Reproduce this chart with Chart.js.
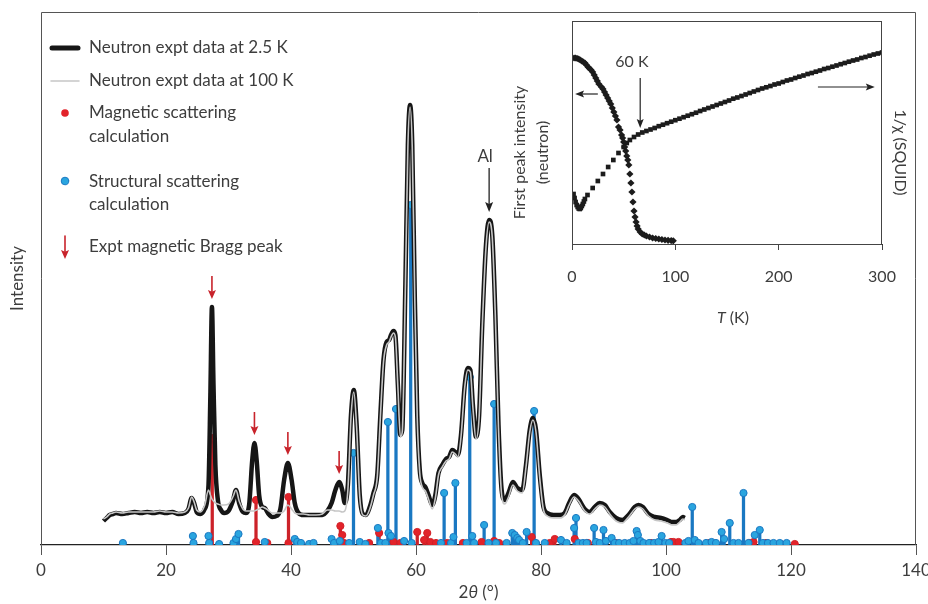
<!DOCTYPE html>
<html>
<head>
<meta charset="utf-8">
<script src="https://cdn.jsdelivr.net/npm/chart.js@4.4.1/dist/chart.umd.min.js"></script>
<style>
html, body { margin: 0; padding: 0; background: #fff; }
#wrap { position: relative; width: 928px; height: 604px; }
#main { position: absolute; left: 0; top: 0; }
#inset { position: absolute; left: 500px; top: 0; }
</style>
</head>
<body>
<div id="wrap">
  <canvas id="main" width="928" height="604"></canvas>
  <canvas id="inset" width="425" height="340"></canvas>
</div>
<script>
// main pattern: 2theta grid, 2.5 K and 100 K intensities (arb. units)
const twoTheta = [10,10.5,11,11.5,12,13,14,15,16,17,18,19,20,21,22,23,23.6,24.1,24.5,24.9,25.5,26.2,26.8,27.1,27.35,27.6,27.9,28.3,28.8,29.3,30,30.7,31.2,31.7,32.3,32.8,33.3,33.8,34.15,34.5,34.9,35.4,35.8,36.3,37,37.7,38.3,38.9,39.5,40.1,40.6,41.2,42,43,44,45,45.8,46.5,47.1,47.7,48.2,48.6,49.1,49.6,50.05,50.5,51,51.5,52,52.6,53.2,53.8,54.3,54.8,55.3,55.7,56,56.4,56.7,57.1,57.5,57.8,58.3,58.7,59.05,59.4,59.8,60.2,60.6,61,61.5,62,62.6,63.1,63.6,64.2,64.8,65.3,65.8,66.3,66.7,67.2,67.8,68.3,68.7,69.1,69.6,70.1,70.6,71.2,71.7,72.2,72.7,73.2,73.7,74.2,74.8,75.5,76.2,77,77.6,78.2,78.7,79.2,79.8,80.4,81,82,83,83.8,84.5,85.3,86,87,87.8,88.6,89.4,90.2,91,92,93,94,95,95.6,96.3,97.2,98.2,99.2,100.2,101,101.6,102.2,102.7,103];
const int2K = [24,27,30,31,32,31,32,33,32,33,32,33,32,33,31,32,36,47,42,33,31,36,60,150,238,160,80,45,35,32,34,44,55,42,33,32,40,85,102,85,50,38,37,32,28,29,36,65,82,65,42,32,30,30,30,30,34,42,55,63,55,42,60,130,155,120,50,31,30,38,52,70,130,185,203,205,210,214,210,160,110,115,260,400,440,400,250,130,75,62,58,50,40,50,72,80,86,88,95,93,90,110,160,177,175,140,108,130,220,300,325,310,230,120,55,45,52,63,57,55,80,115,127,115,70,38,32,30,30,32,42,50,46,36,33,38,42,40,33,27,25,30,38,40,38,31,28,27,25,23,23,25,28,27];
const int100K = [26,28,31,32,33,32,33,33,33,33,33,34,33,33,32,33,37,48,43,35,33,40,55,50,46,44,42,41,40,40,41,48,55,44,36,34,34,34,34,35,36,38,37,35,32,32,32,34,40,36,32,31,31,30,30,31,35,35,34,34,33,34,55,128,153,118,48,30,29,36,50,68,128,183,200,203,208,212,208,158,108,113,258,398,438,398,248,127,72,58,54,46,36,47,70,78,84,86,93,91,88,108,158,175,173,138,106,128,218,298,323,308,228,117,50,41,48,60,54,52,78,113,125,113,67,35,29,27,27,30,40,48,44,34,31,36,40,38,31,24,22,28,36,38,36,29,25,24,22,20,20,23,26,25];

// calculated reflections: position (2theta) and height
const structX = [13.1,24.3,24.4,26.8,26.9,28.5,30.8,31.2,31.6,35.8,40.6,41.0,41.6,42.9,43.6,46.5,46.9,47.8,49.3,50.0,51.0,51.9,53.9,54.4,55.1,55.5,55.6,56.0,56.8,58.1,59.15,59.3,64.0,64.5,65.6,66.0,66.3,68.1,68.6,69.0,69.3,70.9,71.6,72.5,72.8,74.5,75.4,75.8,76.2,76.5,77.1,77.7,78.9,79.2,80.6,83.2,84.1,85.3,85.6,86.0,86.7,87.3,88.5,88.8,89.4,90.0,90.4,91.3,91.8,92.5,93.4,94.2,94.8,95.3,95.5,95.9,96.4,97.3,98.1,98.8,99.3,99.9,100.5,103.1,103.6,104.2,104.6,105.2,106.4,107.3,108.0,108.9,109.3,110.2,110.8,111.6,112.4,113.2,114.2,115.0,115.5,116.3,117.2,118.2,119.3];
const structH = [2,9,2,9,2,1,2,6,11,3,6,3,2,1,2,6,2,4,2,92,3,1,17,2,2,123,12,9,136,4,340,2,2,52,2,8,62,2,168,9,2,20,2,141,2,2,12,10,7,5,2,13,134,2,2,5,2,17,27,2,2,2,17,3,2,15,4,7,2,2,2,2,4,14,10,4,2,2,2,3,9,2,2,2,4,38,5,2,2,3,2,13,6,22,2,2,52,2,10,15,2,2,2,2,2];
const magX = [27.4,34.4,34.4,36.2,39.6,39.6,47.9,48.2,48.5,52.5,54.1,56.4,57.5,60.2,61.3,61.8,62.3,63.2,65.0,67.5,70.5,72.5,73.3,78.5,81.4,82.2,85.4,87.5,92.0,97.6,100.8,101.2,102.0,106.9,113.4,114.0,116.0,120.6];
const magH = [107,45,3,2,48,2,19,10,2,2,12,3,2,13,5,12,3,2,2,2,3,4,2,8,2,6,6,2,2,2,3,3,3,2,2,3,2,1];

// experimental magnetic Bragg peaks (arrows) and Al line
const braggArrowX = [27.35,34.15,39.5,47.7];
const braggArrowPeak = [238,102,82,63];
const alX = 71.7, alPeak = 325;
const xTicks = [0,20,40,60,80,100,120,140];

// inset: first peak intensity (neutron) and 1/chi (SQUID) vs T
const neutronT = [2,3.5,5,6.5,8,9.5,11,12.5,14,15.5,17,18.5,20,21.5,23,24.5,26,28.5,30,31.5,33,34.5,36,37.5,39,40.5,42,43.5,45,46.5,48,49,50,51,52,53,54,55,56,57,58,59,60,61,62,63,64,66,68,70,72,75,78,81,84,87,90,93,96,98];
const neutronI = [186,186,185.5,185,184,183,182,181,179,177,175.5,174,172,169,166,163,160,157,155,152,149,146,143,140,136,132,128,124,117,114,109,106,102,97,93,88,84,79,70,61,52,42,33,27,22,18,15,12,10,9,8,7,6,5.5,5,4.5,4,3.7,3.4,3.2];
const squidT = [1.5,2.5,3.5,4.5,5.5,6.5,7.5,8.5,9.5,10.5,11.5,12.5,15,20,25,30,35,40,45,50,53,56,60,64,68,72,76,80,84,88,92,96,100,104,108,112,116,120,124,128,132,136,140,144,148,152,156,160,164,168,172,176,180,184,188,192,196,200,204,208,212,216,220,224,228,232,236,240,244,248,252,256,260,264,268,272,276,280,284,288,292,296,300];
const squidInv = [50,46,42,39,37,35.5,35,36,38,40,42.5,45,49,56,63,70,77,84,91,97,101,104,107,109.5,111.5,113,114.5,116,117.8,119.3,120.8,122.3,123.8,125.3,126.8,128.3,129.8,131.3,133,134.5,136,137.5,139,140.5,142,143.5,145.3,146.5,148,149.5,151,152.5,154,155.5,156.7,158,159.5,160.5,162,163.5,164.5,166,167.3,168.5,170,171,172.3,173.5,175,176,177.3,178.5,179.8,181,182.3,183.5,184.5,186,187,188.3,189.5,190.5,191.5];
const insetTicks = [0,100,200,300];

const ink = '#3d3d3d';
const red = '#e2232a', redStem = '#cc2229';
const blueFill = '#2aa5df', blueStem = '#1a78c2';
const fontFam = 'Lato, "Open Sans", sans-serif';

function arrow(ctx, x1, y1, x2, y2, color, lw, head, hw) {
  const ang = Math.atan2(y2 - y1, x2 - x1);
  ctx.save();
  ctx.strokeStyle = color; ctx.fillStyle = color; ctx.lineWidth = lw;
  ctx.beginPath();
  ctx.moveTo(x1, y1);
  ctx.lineTo(x2 - Math.cos(ang) * head * 0.7, y2 - Math.sin(ang) * head * 0.7);
  ctx.stroke();
  ctx.translate(x2, y2); ctx.rotate(ang);
  ctx.beginPath();
  ctx.moveTo(0, 0); ctx.lineTo(-head, -hw / 2); ctx.lineTo(-head * 0.8, 0); ctx.lineTo(-head, hw / 2);
  ctx.closePath(); ctx.fill();
  ctx.restore();
}

function pts(xs, ys) { return xs.map((v, i) => ({x: v, y: ys[i]})); }

const mainDecor = {
  id: 'mainDecor',
  afterDraw(chart) {
    const {ctx, chartArea: a, scales: {x, y}} = chart;
    ctx.save();
    // frame
    ctx.strokeStyle = '#555'; ctx.lineWidth = 1;
    ctx.beginPath();
    ctx.moveTo(a.left + 0.5, a.bottom); ctx.lineTo(a.left + 0.5, a.top + 0.5);
    ctx.lineTo(a.right - 0.5, a.top + 0.5); ctx.lineTo(a.right - 0.5, a.bottom);
    ctx.stroke();

    // magnetic Bragg arrows
    braggArrowX.forEach((v, i) => {
      const px = x.getPixelForValue(v);
      const tip = y.getPixelForValue(braggArrowPeak[i]) - 8;
      arrow(ctx, px, tip - 23, px, tip, '#c8232b', 1.6, 9, 8);
    });
    // Al
    const ax = x.getPixelForValue(alX), atip = y.getPixelForValue(alPeak) - 8;
    arrow(ctx, ax, atip - 44, ax, atip, '#222', 1.3, 10, 8);
    ctx.font = '17px ' + fontFam; ctx.fillStyle = ink;
    ctx.textAlign = 'center'; ctx.textBaseline = 'middle';
    ctx.fillText('Al', ax - 4, atip - 55);

    // legend
    ctx.lineCap = 'round';
    ctx.strokeStyle = '#161616'; ctx.lineWidth = 5;
    ctx.beginPath(); ctx.moveTo(52, 48); ctx.lineTo(78, 48); ctx.stroke();
    ctx.strokeStyle = '#c6c6c6'; ctx.lineWidth = 1.5;
    ctx.beginPath(); ctx.moveTo(51, 81); ctx.lineTo(79, 81); ctx.stroke();
    ctx.fillStyle = red;
    ctx.beginPath(); ctx.arc(65, 113, 3.8, 0, Math.PI * 2); ctx.fill();
    ctx.fillStyle = blueFill; ctx.strokeStyle = blueStem; ctx.lineWidth = 1;
    ctx.beginPath(); ctx.arc(65, 181, 3.8, 0, Math.PI * 2); ctx.fill(); ctx.stroke();
    arrow(ctx, 65, 236, 65, 259, '#c8232b', 1.6, 9, 8);

    ctx.fillStyle = ink; ctx.textAlign = 'left';
    ctx.fillText('Neutron expt data at 2.5 K', 89, 48);
    ctx.fillText('Neutron expt data at 100 K', 89, 81);
    ctx.fillText('Magnetic scattering', 89, 113);
    ctx.fillText('calculation', 89, 137);
    ctx.fillText('Structural scattering', 89, 182);
    ctx.fillText('calculation', 89, 205);
    ctx.fillText('Expt magnetic Bragg peak', 89, 247);

    // y title
    ctx.save();
    ctx.translate(18, (a.top + a.bottom) / 2);
    ctx.rotate(-Math.PI / 2);
    ctx.textAlign = 'center';
    ctx.fillText('Intensity', 0, 0);
    ctx.restore();

    // x title: 2θ (°)
    const cx = (a.left + a.right) / 2, ty = 593;
    const f1 = '17px ' + fontFam, f2 = 'italic 17px ' + fontFam;
    ctx.font = f1; const w1 = ctx.measureText('2').width, w3 = ctx.measureText(' (°)').width;
    ctx.font = f2; const w2 = ctx.measureText('θ').width;
    let sx = cx - (w1 + w2 + w3) / 2;
    ctx.textAlign = 'left';
    ctx.font = f1; ctx.fillText('2', sx, ty); sx += w1;
    ctx.font = f2; ctx.fillText('θ', sx, ty); sx += w2;
    ctx.font = f1; ctx.fillText(' (°)', sx, ty);
    ctx.restore();
  }
};

new Chart(document.getElementById('main'), {
  type: 'scatter',
  data: {
    datasets: [
      {type: 'line', label: 'Neutron expt data at 100 K', data: pts(twoTheta, int100K),
       borderColor: '#c6c6c6', borderWidth: 1.6, pointRadius: 0, cubicInterpolationMode: 'monotone', order: 1},
      {type: 'line', label: 'Neutron expt data at 2.5 K', data: pts(twoTheta, int2K),
       borderColor: '#161616', borderWidth: 4.5, pointRadius: 0, cubicInterpolationMode: 'monotone', order: 2},
      {type: 'scatter', label: 'Structural scattering calculation', data: pts(structX, structH),
       backgroundColor: blueFill, borderColor: blueStem, borderWidth: 1, pointRadius: 3.6, clip: 0, order: 3},
      {type: 'scatter', label: 'Magnetic scattering calculation', data: pts(magX, magH),
       backgroundColor: red, borderColor: '#d21f26', borderWidth: 1, pointRadius: 3.6, clip: 0, order: 4},
      {type: 'bar', label: 'structural stems', data: pts(structX, structH),
       backgroundColor: blueStem, barThickness: 2.6, grouped: false, borderWidth: 0, order: 5},
      {type: 'bar', label: 'magnetic stems', data: pts(magX, magH),
       backgroundColor: redStem, barThickness: 2.6, grouped: false, borderWidth: 0, order: 6}
    ]
  },
  options: {
    responsive: false, animation: false, events: [],
    layout: {padding: {left: 41, right: 12, top: 12, bottom: 0}},
    plugins: {legend: {display: false}, tooltip: {enabled: false}},
    scales: {
      x: {
        type: 'linear', min: 0, max: 140, offset: false,
        afterBuildTicks(s) { s.ticks = xTicks.map(v => ({value: v})); },
        afterFit(s) { s.paddingLeft = 0; s.paddingRight = 0; s.height = 59; },
        ticks: {padding: 5, color: ink, font: {family: fontFam, size: 17}},
        grid: {offset: false, drawOnChartArea: false, tickLength: 10, tickColor: '#555', tickWidth: 1},
        border: {color: '#222', width: 1.3}
      },
      y: {type: 'linear', min: 0, max: 533, display: false}
    }
  },
  plugins: [mainDecor]
});

const insetDecor = {
  id: 'insetDecor',
  afterDraw(chart) {
    const {ctx, chartArea: a, scales: {x, yL, yR}} = chart;
    ctx.save();
    ctx.strokeStyle = '#444'; ctx.lineWidth = 1;
    ctx.strokeRect(a.left + 0.5, a.top + 0.5, a.right - a.left - 1, a.bottom - a.top);
    ctx.font = '16px ' + fontFam; ctx.fillStyle = ink;
    ctx.textAlign = 'center'; ctx.textBaseline = 'middle';
    // 60 K marker
    const kx = x.getPixelForValue(66);
    arrow(ctx, kx, yR.getPixelForValue(166), kx, yR.getPixelForValue(116), '#222', 1.2, 9, 7);
    ctx.fillText('60 K', x.getPixelForValue(58), yR.getPixelForValue(182));
    // axis arrows
    arrow(ctx, x.getPixelForValue(25), yL.getPixelForValue(150), x.getPixelForValue(3), yL.getPixelForValue(150), '#222', 1.2, 9, 7);
    arrow(ctx, x.getPixelForValue(238), yR.getPixelForValue(157), x.getPixelForValue(293), yR.getPixelForValue(157), '#222', 1.2, 9, 7);
    // left title
    const cy = (a.top + a.bottom) / 2 + 20;
    ctx.save(); ctx.translate(20, cy); ctx.rotate(-Math.PI / 2);
    ctx.fillText('First peak intensity', 0, 0);
    ctx.fillText('(neutron)', 0, 23);
    ctx.restore();
    // right title
    ctx.save(); ctx.translate(a.right + 18, cy); ctx.rotate(Math.PI / 2);
    ctx.fillText('1/χ (SQUID)', 0, 0);
    ctx.restore();
    // bottom title T (K)
    const f1 = '16px ' + fontFam, f2 = 'italic 16px ' + fontFam;
    ctx.font = f2; const wT = ctx.measureText('T').width;
    ctx.font = f1; const wK = ctx.measureText(' (K)').width;
    let sx = (a.left + a.right) / 2 + 6 - (wT + wK) / 2;
    ctx.textAlign = 'left';
    ctx.font = f2; ctx.fillText('T', sx, 318);
    ctx.font = f1; ctx.fillText(' (K)', sx + wT, 318);
    ctx.restore();
  }
};

new Chart(document.getElementById('inset'), {
  type: 'scatter',
  data: {
    datasets: [
      {label: 'First peak intensity (neutron)', data: pts(neutronT, neutronI), yAxisID: 'yL',
       pointStyle: 'rectRot', pointRadius: 3.6, backgroundColor: '#1c1c1c', borderWidth: 0},
      {label: '1/χ (SQUID)', data: pts(squidT, squidInv), yAxisID: 'yR',
       pointStyle: 'rect', pointRadius: 3.3, backgroundColor: '#1c1c1c', borderWidth: 0}
    ]
  },
  options: {
    responsive: false, animation: false, events: [],
    layout: {padding: {left: 72, right: 43, top: 21, bottom: 0}},
    plugins: {legend: {display: false}, tooltip: {enabled: false}},
    scales: {
      x: {
        type: 'linear', min: 0, max: 300,
        afterBuildTicks(s) { s.ticks = insetTicks.map(v => ({value: v})); },
        afterFit(s) { s.paddingLeft = 0; s.paddingRight = 0; s.height = 96; },
        ticks: {padding: 17, color: ink, font: {family: fontFam, size: 16}},
        grid: {drawOnChartArea: false, tickLength: 6, tickColor: '#444'},
        border: {color: '#333', width: 1}
      },
      yL: {type: 'linear', position: 'left', min: 0, max: 223, display: false},
      yR: {type: 'linear', position: 'right', min: 0, max: 223, display: false}
    }
  },
  plugins: [insetDecor]
});
</script>
</body>
</html>
